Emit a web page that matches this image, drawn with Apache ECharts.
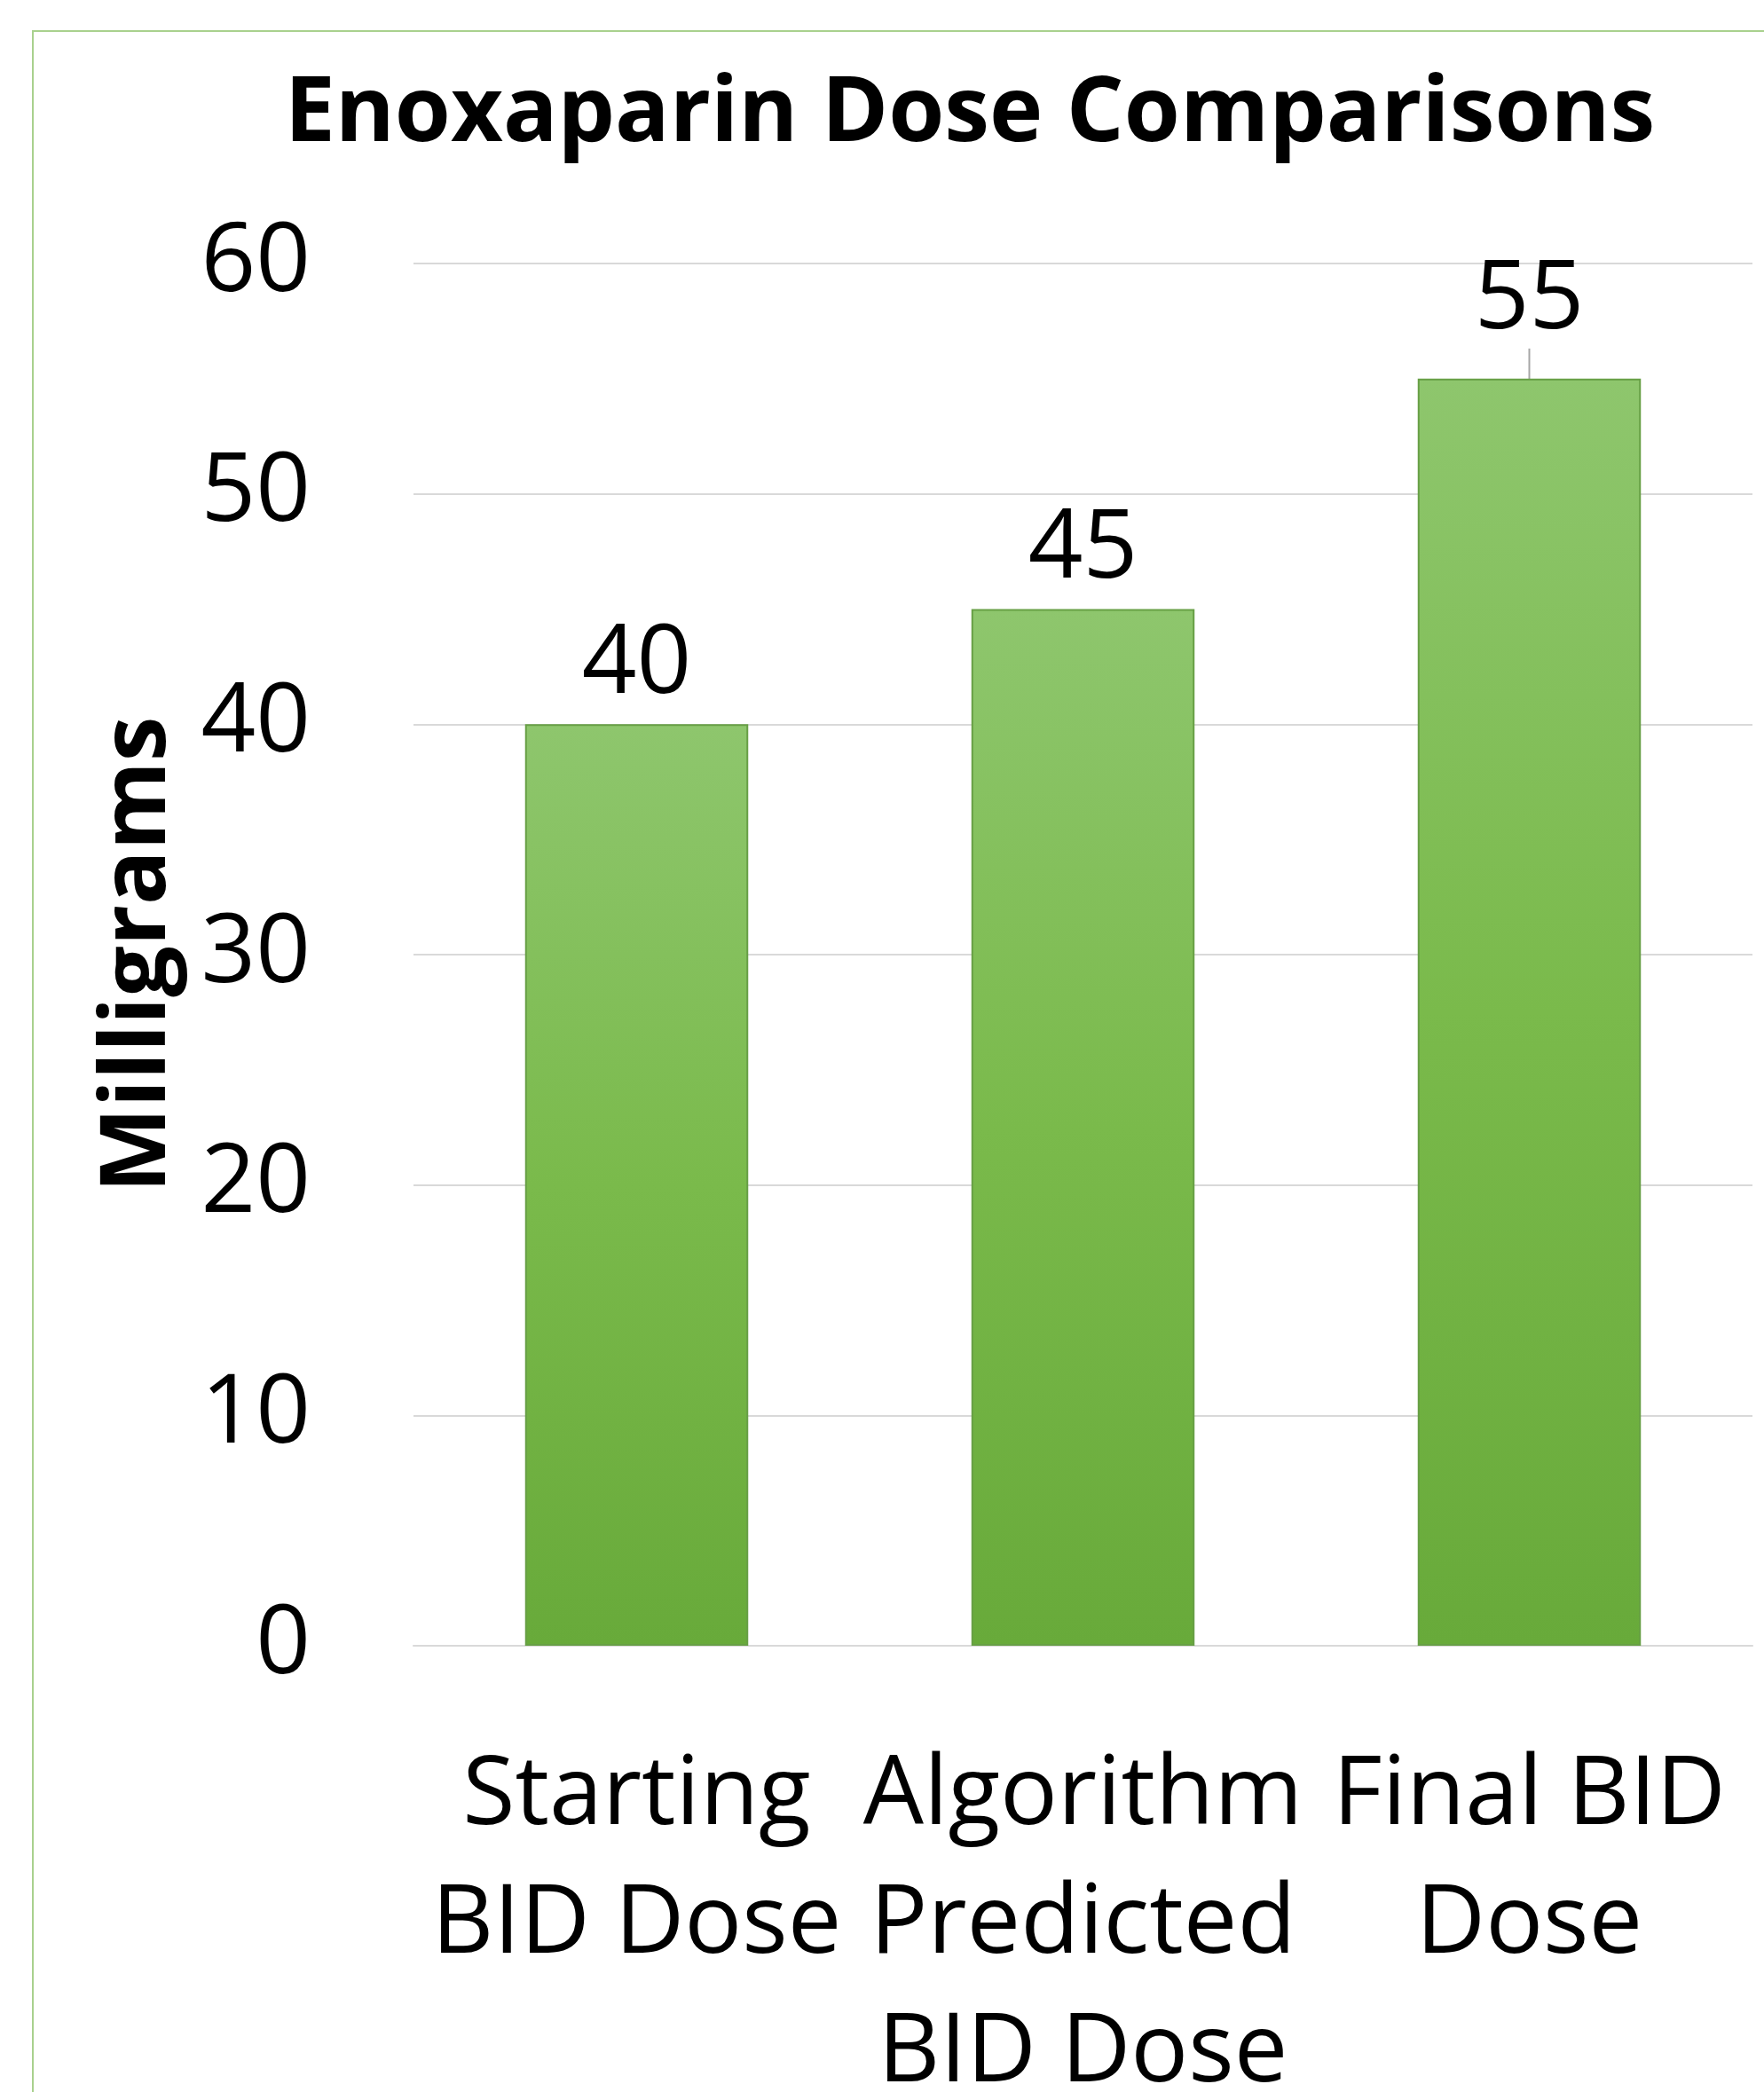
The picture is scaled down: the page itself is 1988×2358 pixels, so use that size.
<!DOCTYPE html>
<html>
<head>
<meta charset="utf-8">
<script src="https://cdn.jsdelivr.net/npm/echarts@6/dist/echarts.min.js"></script>
<style>
  html, body { margin: 0; padding: 0; background: #fff; }
  #main { width: 1988px; height: 2358px; }
</style>
</head>
<body>
<div id="main"></div>
<script>
// 数据
var categories = ['Starting\nBID Dose', 'Algorithm\nPredicted\nBID Dose', 'Final BID\nDose'];
var doses = [40, 45, 55];
var yTicks = [0, 10, 20, 30, 40, 50, 60];

var myChart = echarts.init(document.getElementById('main'));

var font = '"Open Sans", "Noto Sans", sans-serif';

// 只有最后一个标签被挪上去，带引导线
var barData = doses.map(function (v, i) {
  return {
    value: v,
    labelLine: { show: i === 2 }
  };
});

var option = {
  backgroundColor: '#fff',
  // 外框
  graphic: [{
    type: 'rect',
    shape: { x: 37, y: 35, width: 2100, height: 2500 },
    style: { fill: 'none', stroke: '#a9d18e', lineWidth: 2 }
  }],
  // 大标题
  title: {
    text: 'Enoxaparin Dose Comparisons',
    left: 1088,
    textAlign: 'center',
    top: 74,
    textStyle: { fontFamily: font, fontWeight: 'bold', fontSize: 102, color: '#000' }
  },
  grid: { left: 466, right: 13, top: 297, bottom: 503, outerBoundsMode: 'none' },
  // X轴
  xAxis: {
    type: 'category',
    data: categories,
    axisLine: { lineStyle: { color: '#d9d9d9', width: 2 } },
    axisTick: { show: false },
    axisLabel: {
      fontFamily: font, fontSize: 108, lineHeight: 145, color: '#000',
      margin: 98, interval: 0
    }
  },
  // Y轴
  yAxis: {
    type: 'value',
    min: yTicks[0],
    max: yTicks[yTicks.length - 1],
    interval: 10,
    name: 'Milligrams',
    nameLocation: 'middle',
    nameRotate: 90,
    nameGap: 258,
    nameTextStyle: { fontFamily: font, fontWeight: 'bold', fontSize: 102, color: '#000' },
    axisLine: { show: false },
    axisTick: { show: false },
    splitLine: { lineStyle: { color: '#d9d9d9', width: 2 } },
    axisLabel: { fontFamily: font, fontSize: 108, color: '#000', margin: 116 }
  },
  series: [{
    type: 'bar',
    data: barData,
    barWidth: '50%',
    itemStyle: {
      color: new echarts.graphic.LinearGradient(0, 0, 0, 1, [
        { offset: 0, color: '#8ec66d' },
        { offset: 0.5, color: '#7aba4b' },
        { offset: 1, color: '#68aa3a' }
      ]),
      borderColor: '#679f45',
      borderWidth: 2
    },
    label: {
      show: true,
      position: 'top',
      distance: 12,
      fontFamily: font,
      fontSize: 108,
      color: '#000'
    },
    labelLayout: function (params) {
      if (params.dataIndex === 2) {
        return { dy: -22 };
      }
    },
    labelLine: { lineStyle: { color: '#a6a6a6', width: 2 } }
  }]
};

myChart.setOption(option);
</script>
</body>
</html>
